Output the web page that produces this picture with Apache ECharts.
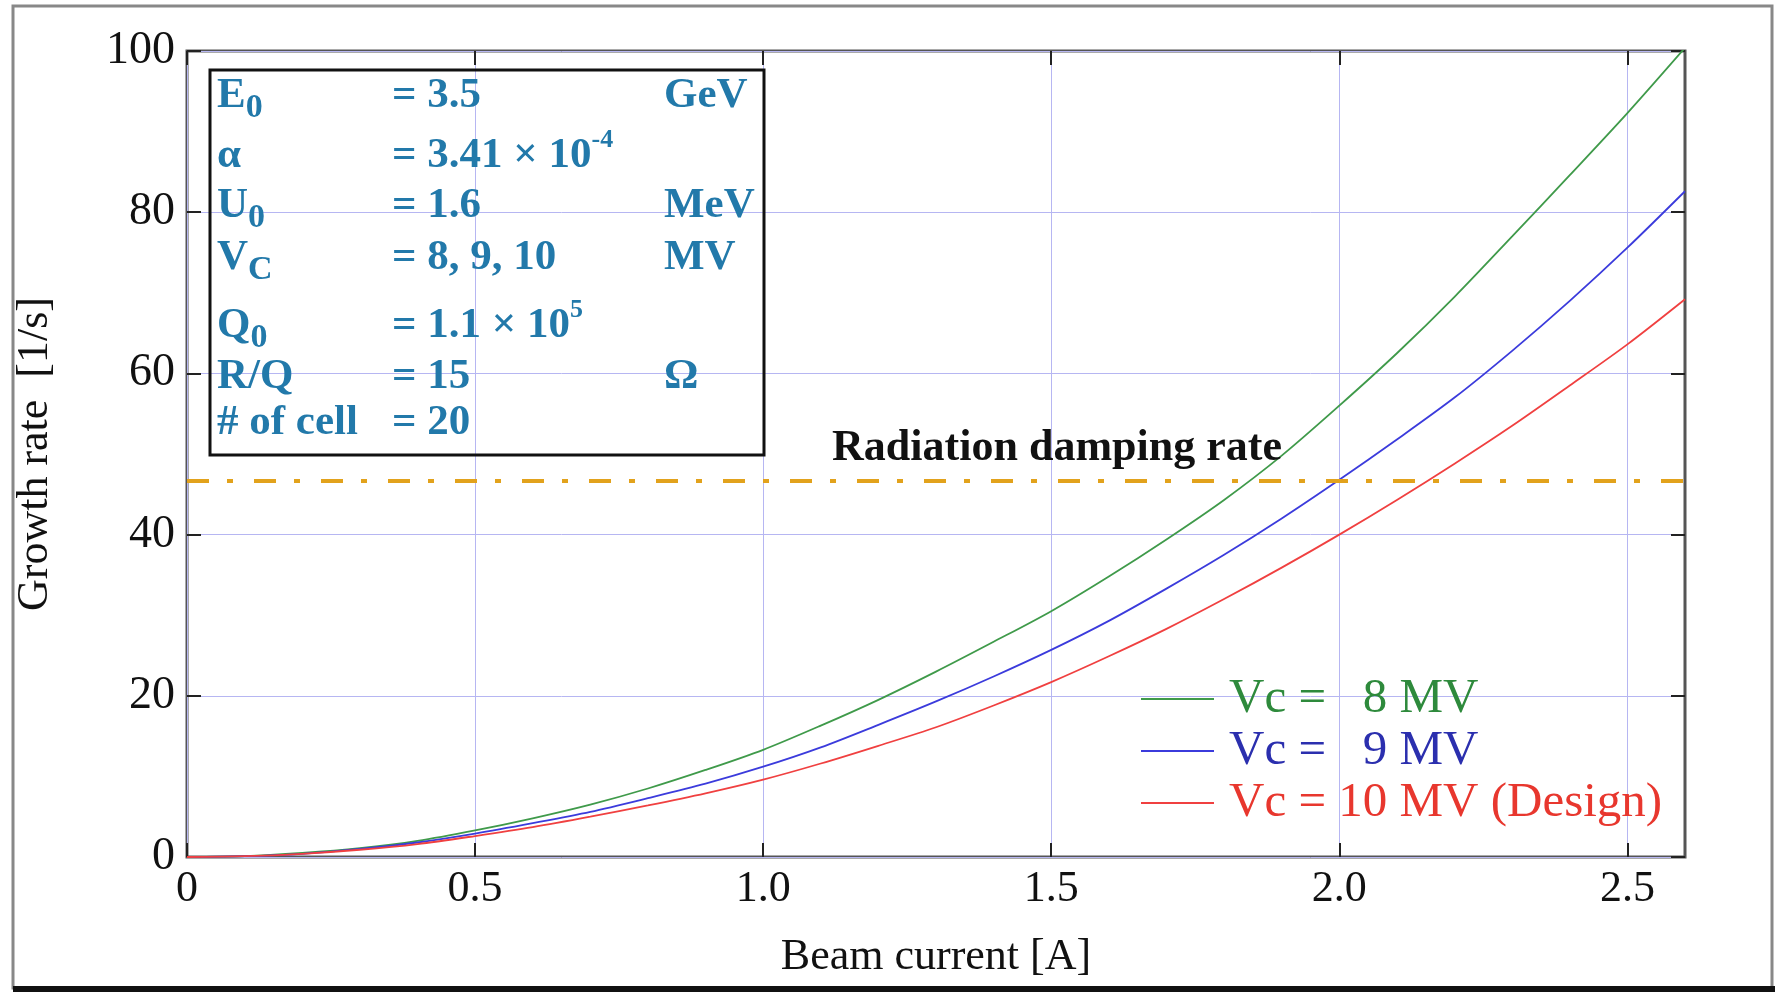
<!DOCTYPE html>
<html>
<head>
<meta charset="utf-8">
<script src="https://cdn.jsdelivr.net/npm/echarts@6/dist/echarts.min.js"></script>
<style>
  html, body { margin: 0; padding: 0; background: #fff; }
  #chart { width: 1775px; height: 992px; }
</style>
</head>
<body>
<div id="chart"></div>
<script>
// beam current [A]
var current = [0, 0.1, 0.2, 0.3, 0.4, 0.5, 0.6, 0.7, 0.8, 0.9, 1.0, 1.1, 1.2, 1.3,
  1.4, 1.5, 1.6, 1.7, 1.8, 1.9, 2.0, 2.1, 2.2, 2.3, 2.4, 2.5, 2.6];
// growth rate [1/s] for Vc = 8, 9, 10 MV
var rate8 = [0, 0.1, 0.5, 1.1, 2.0, 3.3, 4.8, 6.5, 8.5, 10.8, 13.3, 16.3, 19.5, 23.0,
  26.7, 30.5, 34.8, 39.4, 44.3, 49.8, 56.0, 62.5, 69.5, 77.0, 84.6, 92.3, 100.4];
var rate9 = [0, 0.1, 0.4, 1.0, 1.8, 2.9, 4.2, 5.6, 7.3, 9.1, 11.2, 13.6, 16.4, 19.3,
  22.4, 25.7, 29.3, 33.3, 37.5, 42.0, 46.8, 51.8, 57.0, 62.8, 69.0, 75.6, 82.6];
var rate10 = [0, 0.1, 0.4, 0.9, 1.6, 2.6, 3.7, 5.0, 6.4, 7.9, 9.6, 11.6, 13.8, 16.1,
  18.8, 21.7, 24.9, 28.3, 32.0, 35.9, 40.0, 44.3, 48.8, 53.5, 58.5, 63.6, 69.2];
var dampingRate = 46.7;
var xTicks = [0, 0.5, 1.0, 1.5, 2.0, 2.5];
var seriesNames = ['Vc =   8 MV', 'Vc =   9 MV', 'Vc = 10 MV (Design)'];
// label, subscript, value, superscript, unit
var paramRows = [
  ['E', '0', '= 3.5', '', 'GeV'],
  ['\u03b1', '', '= 3.41 \u00d7 10', '-4', ''],
  ['U', '0', '= 1.6', '', 'MeV'],
  ['V', 'C', '= 8, 9, 10', '', 'MV'],
  ['Q', '0', '= 1.1 \u00d7 10', '5', ''],
  ['R/Q', '', '= 15', '', '\u03a9'],
  ['# of cell', '', '= 20', '', '']
];

var serif = '"Liberation Serif", "Times New Roman", serif';
var lineColors = ['#3f9a4a', '#3b3bdc', '#f04040'];
var textColors = ['#2e8a3c', '#2b2fae', '#e8372e'];
var boxColor = '#2279aa';

var chartDom = document.getElementById('chart');
var myChart = echarts.init(chartDom);
var option;

function zip(ys) {
  return current.map(function (x, i) { return [x, ys[i]]; });
}

// measure text so sub/superscripts can follow their base text
var ctx = document.createElement('canvas').getContext('2d');
function textWidth(str, font) {
  ctx.font = font;
  return ctx.measureText(str).width;
}

var boxFont = 'bold 43px ' + serif;
var rowY = [96, 156, 206, 258, 326, 377, 423];
var boxItems = [
  {
    type: 'rect',
    shape: { x: 210, y: 70, width: 554, height: 385 },
    style: { fill: 'none', stroke: '#111', lineWidth: 3 },
    z: 10
  }
];
paramRows.forEach(function (row, i) {
  var y = rowY[i];
  var txt = { fill: boxColor, fontFamily: serif, fontWeight: 'bold', fontSize: 43, verticalAlign: 'middle' };
  boxItems.push({ type: 'text', x: 217, y: y, z: 10, style: Object.assign({ text: row[0] }, txt) });
  if (row[1]) {
    boxItems.push({
      type: 'text', x: 217 + textWidth(row[0], boxFont), y: y + 12, z: 10,
      style: Object.assign({}, txt, { text: row[1], fontSize: 34 })
    });
  }
  boxItems.push({ type: 'text', x: 392, y: y, z: 10, style: Object.assign({ text: row[2] }, txt) });
  if (row[3]) {
    boxItems.push({
      type: 'text', x: 392 + textWidth(row[2], boxFont), y: y - 16, z: 10,
      style: Object.assign({}, txt, { text: row[3], fontSize: 26 })
    });
  }
  if (row[4]) {
    boxItems.push({ type: 'text', x: 664, y: y, z: 10, style: Object.assign({ text: row[4] }, txt) });
  }
});

function ticks() {
  return { inside: true, length: 14, lineStyle: { color: '#222', width: 2 } };
}
// axis lines hidden (grid border draws the frame); onZero off so top/right stay put
var noLine = { show: false, onZero: false };

option = {
  backgroundColor: '#fff',
  animation: false,
  color: lineColors,
  grid: {
    left: 187,
    top: 51,
    right: 90,
    bottom: 135,
    show: true,
    borderColor: '#555',
    borderWidth: 3
  },
  legend: {
    orient: 'vertical',
    left: 1136,
    top: 668,
    icon: 'rect',
    itemWidth: 73,
    itemHeight: 2,
    itemGap: 0,
    textStyle: { fontFamily: serif, fontSize: 49, lineHeight: 52, padding: [0, 0, 0, 10] },
    data: seriesNames.map(function (n, i) {
      return { name: n, textStyle: { color: textColors[i] } };
    })
  },
  xAxis: [
    {
      type: 'value',
      min: 0,
      max: 2.6,
      interval: 0.5,
      position: 'bottom',
      axisLine: noLine,
      axisTick: Object.assign(ticks(), { customValues: xTicks }),
      splitLine: { lineStyle: { color: '#b6b6f2', width: 1 } },
      axisLabel: {
        customValues: xTicks,
        fontFamily: serif,
        fontSize: 44,
        color: '#111',
        margin: 10,
        formatter: function (v) { return v === 0 ? '0' : v.toFixed(1); }
      },
      name: 'Beam current [A]',
      nameLocation: 'middle',
      nameGap: 78,
      nameTextStyle: { fontFamily: serif, fontSize: 44, color: '#111' }
    },
    {
      type: 'value',
      min: 0,
      max: 2.6,
      interval: 0.5,
      position: 'top',
      axisLine: noLine,
      axisTick: Object.assign(ticks(), { customValues: xTicks }),
      axisLabel: { show: false },
      splitLine: { show: false }
    }
  ],
  yAxis: [
    {
      type: 'value',
      min: 0,
      max: 100,
      interval: 20,
      position: 'left',
      axisLine: noLine,
      axisTick: ticks(),
      splitLine: { lineStyle: { color: '#b6b6f2', width: 1 } },
      axisLabel: { fontFamily: serif, fontSize: 46, color: '#111', margin: 12 },
      name: 'Growth rate  [1/s]',
      nameLocation: 'middle',
      nameGap: 130,
      nameTextStyle: { fontFamily: serif, fontSize: 44, color: '#111' }
    },
    {
      type: 'value',
      min: 0,
      max: 100,
      interval: 20,
      position: 'right',
      axisLine: noLine,
      axisTick: ticks(),
      axisLabel: { show: false },
      splitLine: { show: false }
    }
  ],
  series: [
    {
      name: seriesNames[0],
      type: 'line',
      smooth: 0.3,
      symbol: 'none',
      lineStyle: { width: 1.8 },
      data: zip(rate8)
    },
    {
      name: seriesNames[1],
      type: 'line',
      smooth: 0.3,
      symbol: 'none',
      lineStyle: { width: 1.8 },
      data: zip(rate9)
    },
    {
      name: seriesNames[2],
      type: 'line',
      smooth: 0.3,
      symbol: 'none',
      lineStyle: { width: 1.8 },
      data: zip(rate10),
      markLine: {
        silent: true,
        symbol: 'none',
        label: { show: false },
        lineStyle: { color: '#e2a21c', width: 4, type: [22, 18, 6, 21] },
        data: [{ yAxis: dampingRate }]
      }
    }
  ],
  graphic: [
    // outer frame
    {
      type: 'rect',
      shape: { x: 13, y: 6, width: 1759, height: 982 },
      style: { fill: 'none', stroke: '#888', lineWidth: 3 },
      silent: true
    },
    {
      type: 'line',
      shape: { x1: 13, y1: 989, x2: 1775, y2: 989 },
      style: { stroke: '#111', lineWidth: 6 },
      silent: true
    },
    {
      type: 'text',
      x: 1057,
      y: 449,
      z: 10,
      style: {
        text: 'Radiation damping rate',
        fill: '#111',
        fontFamily: serif,
        fontWeight: 'bold',
        fontSize: 44,
        align: 'center',
        verticalAlign: 'middle'
      }
    }
  ].concat(boxItems)
};

option && myChart.setOption(option);
</script>
</body>
</html>
